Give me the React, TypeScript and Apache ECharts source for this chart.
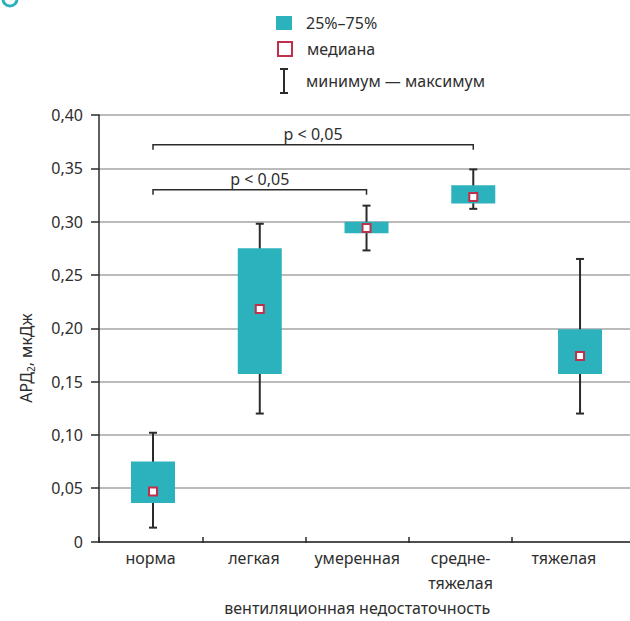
import React, { useEffect, useRef } from "react";
import * as echarts from "echarts";

// ---- data ----
const categories = ["норма", "легкая", "умеренная", "средне-\nтяжелая", "тяжелая"];
const minValues = [0.013, 0.12, 0.273, 0.312, 0.12];
const q1Values = [0.036, 0.157, 0.289, 0.317, 0.157];
const medianValues = [0.047, 0.218, 0.294, 0.323, 0.174];
const q3Values = [0.075, 0.275, 0.3, 0.334, 0.199];
const maxValues = [0.102, 0.298, 0.315, 0.349, 0.265];

const bracketFrom = [0, 0];
const bracketTo = [2, 3];
const bracketLevel = [0.33, 0.372];
const bracketText = ["p < 0,05", "p < 0,05"];

const legendNames = ["25%–75%", "медиана", "минимум — максимум"];
const xAxisTitle = "вентиляционная недостаточность";
const yAxisTitle = ["АРД", "2", ", мкДж"];

const FONT = "'Noto Sans', 'Open Sans', sans-serif";
const FS = 16;
const TEAL = "#2cb2bd";
const CRIMSON = "#c0304a";
const DARK = "#2b2b2b";
const TEXT = "#2e2e2e";

export default function App() {
  const ref = useRef<HTMLDivElement>(null);

  useEffect(() => {
    document.body.style.margin = "0";
    if (!ref.current) return;
    const chart = echarts.init(ref.current, null, { renderer: "svg" });

    const boxData = categories.map((_, i) => [
      i,
      minValues[i],
      q1Values[i],
      medianValues[i],
      q3Values[i],
      maxValues[i],
    ]);
    const bracketData = bracketFrom.map((f, i) => [f, bracketTo[i], bracketLevel[i], i]);

    const legendText = (pad: number) => ({
      fontSize: FS,
      color: TEXT,
      fontFamily: FONT,
      padding: [0, 0, 0, pad],
    });

    const option: any = {
      animation: false,
      textStyle: { fontFamily: FONT },
      graphic: [
        {
          type: "arc",
          shape: { cx: 10, cy: -1, r: 7, startAngle: 0, endAngle: Math.PI },
          style: { stroke: TEAL, lineWidth: 3, fill: null },
        },
        {
          type: "text",
          x: 26,
          y: 358,
          rotation: Math.PI / 2,
          style: {
            text: `{a|${yAxisTitle[0]}}{s|${yAxisTitle[1]}}{a|${yAxisTitle[2]}}`,
            align: "center",
            verticalAlign: "middle",
            rich: {
              a: { fontSize: FS, fontFamily: FONT, fill: TEXT, lineHeight: 20 },
              s: { fontSize: 10, fontFamily: FONT, fill: TEXT, verticalAlign: "bottom", lineHeight: 14 },
            },
          },
        },
      ],
      legend: [
        {
          data: [{ name: legendNames[0], icon: "rect" }],
          left: 276,
          top: 15,
          padding: 0,
          itemWidth: 16,
          itemHeight: 14,
          selectedMode: false,
          textStyle: legendText(9),
        },
        {
          data: [
            {
              name: legendNames[1],
              icon: "rect",
              itemStyle: { color: "#fff", borderColor: CRIMSON, borderWidth: 2 },
            },
          ],
          left: 277,
          top: 41,
          padding: 0,
          itemWidth: 14,
          itemHeight: 14,
          selectedMode: false,
          textStyle: legendText(10),
        },
        {
          data: [
            {
              name: legendNames[2],
              icon: "path://M0,0h8v2h-3v22h3v2h-8v-2h3v-22h-3z",
              itemStyle: { color: DARK },
            },
          ],
          left: 280,
          top: 68,
          padding: 0,
          itemWidth: 8,
          itemHeight: 26,
          selectedMode: false,
          textStyle: legendText(13),
        },
      ],
      grid: [
        { left: 99, right: 0, top: 115, bottom: 79.5 },
        { left: 99, width: 516.5, top: 115, bottom: 79.5 },
      ],
      xAxis: [
        {
          type: "value",
          gridIndex: 0,
          min: -0.5059,
          max: 4.468,
          axisLine: { show: true, onZero: false, lineStyle: { color: DARK, width: 1.5 } },
          axisTick: { show: false },
          axisLabel: { show: false },
          splitLine: { show: false },
        },
        {
          type: "value",
          gridIndex: 1,
          min: 0,
          max: 5,
          axisLine: { show: false, onZero: false },
          axisTick: {
            show: true,
            customValues: [0, 1, 2, 3, 4],
            length: 6,
            lineStyle: { color: DARK, width: 1.5 },
          },
          axisLabel: {
            show: true,
            customValues: categories.map((_, i) => i + 0.5),
            formatter: (v: number) => categories[Math.round(v - 0.5)] ?? "",
            fontSize: FS,
            lineHeight: 25,
            color: TEXT,
            fontFamily: FONT,
            margin: 8,
          },
          splitLine: { show: false },
          name: xAxisTitle,
          nameLocation: "middle",
          nameGap: 58,
          nameTextStyle: { fontSize: FS, color: TEXT, fontFamily: FONT },
        },
      ],
      yAxis: [
        {
          type: "value",
          gridIndex: 0,
          min: 0,
          max: 0.4,
          interval: 0.05,
          axisLine: { show: true, onZero: false, lineStyle: { color: DARK, width: 1.5 } },
          axisTick: { show: true, length: 8, lineStyle: { color: DARK, width: 1.5 } },
          axisLabel: {
            formatter: (v: number) => (v === 0 ? "0" : v.toFixed(2).replace(".", ",")),
            fontSize: FS,
            color: TEXT,
            fontFamily: FONT,
            margin: 16,
          },
          splitLine: { show: true, lineStyle: { color: "#a4a4a4", width: 1.6 } },
        },
        { type: "value", gridIndex: 1, min: 0, max: 0.4, show: false },
      ],
      series: [
        {
          type: "custom",
          name: legendNames[2],
          xAxisIndex: 0,
          yAxisIndex: 0,
          itemStyle: { color: DARK },
          encode: { x: 0, y: [1, 5] },
          data: boxData,
          renderItem: (params: any, api: any) => {
            const x = api.value(0);
            const pMin = api.coord([x, api.value(1)]);
            const pMax = api.coord([x, api.value(5)]);
            const st = { stroke: DARK, lineWidth: 2 };
            return {
              type: "group",
              children: [
                { type: "line", shape: { x1: pMin[0], y1: pMin[1], x2: pMax[0], y2: pMax[1] }, style: st },
                { type: "line", shape: { x1: pMin[0] - 4, y1: pMin[1], x2: pMin[0] + 4, y2: pMin[1] }, style: st },
                { type: "line", shape: { x1: pMax[0] - 4, y1: pMax[1], x2: pMax[0] + 4, y2: pMax[1] }, style: st },
              ],
            };
          },
        },
        {
          type: "custom",
          name: legendNames[0],
          xAxisIndex: 0,
          yAxisIndex: 0,
          itemStyle: { color: TEAL },
          encode: { x: 0, y: [2, 4] },
          data: boxData,
          renderItem: (params: any, api: any) => {
            const x = api.value(0);
            const pLo = api.coord([x, api.value(2)]);
            const pHi = api.coord([x, api.value(4)]);
            return {
              type: "rect",
              shape: { x: pHi[0] - 22, y: pHi[1], width: 44, height: pLo[1] - pHi[1] },
              style: { fill: TEAL },
            };
          },
        },
        {
          type: "custom",
          name: legendNames[1],
          xAxisIndex: 0,
          yAxisIndex: 0,
          itemStyle: { color: "#fff", borderColor: CRIMSON, borderWidth: 2 },
          encode: { x: 0, y: 3 },
          data: boxData,
          renderItem: (params: any, api: any) => {
            const p = api.coord([api.value(0), api.value(3)]);
            return {
              type: "rect",
              shape: { x: p[0] - 4, y: p[1] - 4, width: 8, height: 8 },
              style: { fill: "#fff", stroke: CRIMSON, lineWidth: 2 },
            };
          },
        },
        {
          type: "custom",
          name: "brackets",
          xAxisIndex: 0,
          yAxisIndex: 0,
          encode: { x: [0, 1], y: 2 },
          data: bracketData,
          renderItem: (params: any, api: any) => {
            const a = api.coord([api.value(0), api.value(2)]);
            const b = api.coord([api.value(1), api.value(2)]);
            const idx = api.value(3);
            return {
              type: "group",
              children: [
                {
                  type: "polyline",
                  shape: {
                    points: [
                      [a[0], a[1] + 5],
                      [a[0], a[1]],
                      [b[0], b[1]],
                      [b[0], b[1] + 5],
                    ],
                  },
                  style: { stroke: DARK, lineWidth: 1.5, fill: null },
                },
                {
                  type: "text",
                  x: (a[0] + b[0]) / 2,
                  y: a[1] - 3,
                  style: {
                    text: bracketText[idx],
                    align: "center",
                    verticalAlign: "bottom",
                    fontSize: FS,
                    fontFamily: FONT,
                    fill: TEXT,
                  },
                },
              ],
            };
          },
        },
      ],
    };

    chart.setOption(option);
    return () => chart.dispose();
  }, []);

  return <div ref={ref} style={{ width: 630, height: 621 }} />;
}
